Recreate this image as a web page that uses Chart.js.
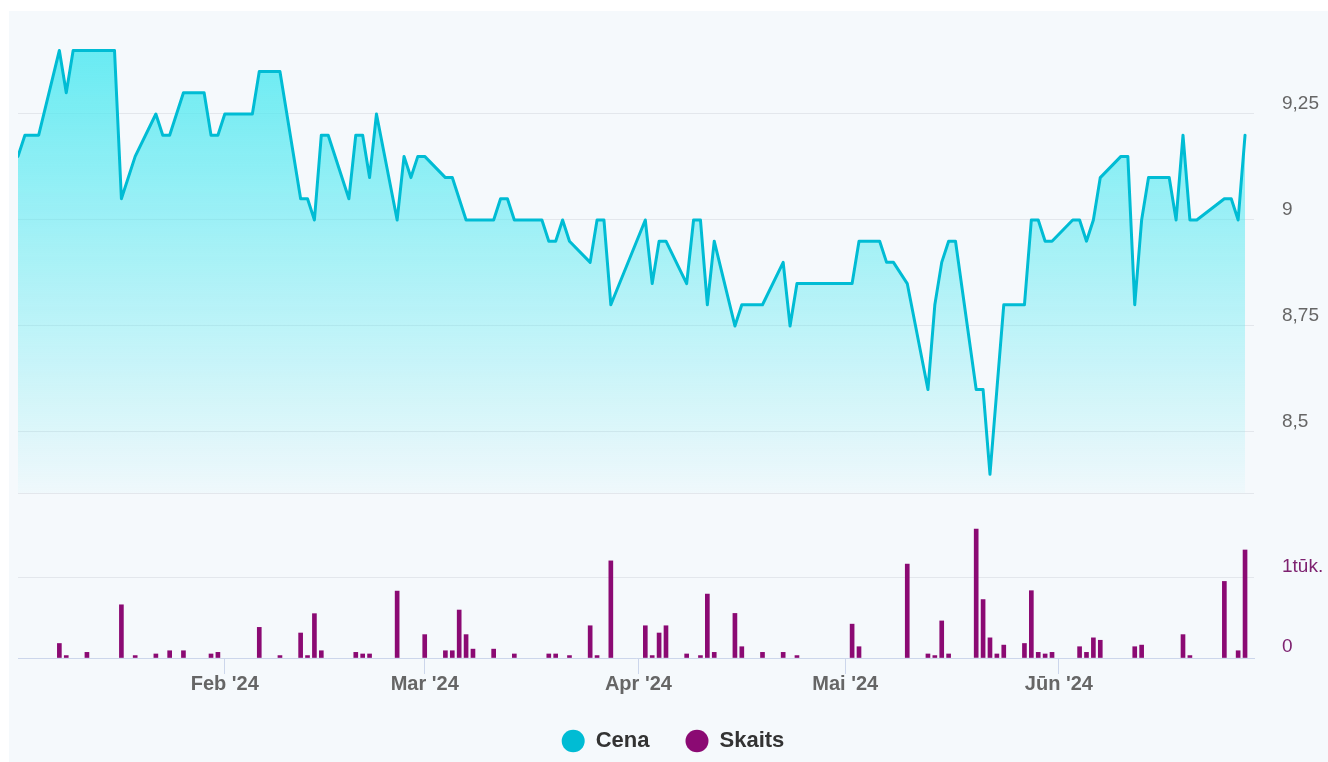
<!DOCTYPE html>
<html>
<head>
<meta charset="utf-8">
<script src="https://cdn.jsdelivr.net/npm/chart.js@4"></script>
<style>
  html, body { margin: 0; padding: 0; background: #ffffff; }
  #panel { position: absolute; left: 9px; top: 11px; width: 1319px; height: 751px; background: #f5f9fc; }
  #chart { position: absolute; left: 0; top: 0; display: block; }
</style>
</head>
<body>
<div id="panel"></div>
<canvas id="chart" width="1328" height="762"></canvas>
<script>
// day numbers count from 1 Jan 2024 = 0
const priceDays = [1, 2, 4, 7, 8, 9, 15, 16, 18, 21, 22, 23, 25, 28, 29, 30, 31, 35, 36, 39,
  42, 43, 44, 45, 46, 49, 50, 51, 52, 53, 56, 57, 58, 59, 60, 63, 64, 66, 70, 71,
  72, 73, 77, 78, 79, 80, 81, 84, 85, 86, 87, 92, 93, 94, 95, 98, 99, 100, 101, 102,
  105, 106, 109, 112, 113, 114, 122, 123, 126, 127, 128, 130, 133, 134, 135, 136, 137, 140, 141, 142,
  143, 144, 147, 148, 149, 150, 151, 154, 155, 156, 157, 158, 161, 162, 163, 164, 165, 168, 169, 170,
  171, 172, 176, 177, 178, 179]
const prices = [9.15, 9.2, 9.2, 9.4, 9.3, 9.4, 9.4, 9.05, 9.15, 9.25, 9.2, 9.2, 9.3, 9.3, 9.2, 9.2, 9.25, 9.25, 9.35, 9.35,
  9.05, 9.05, 9.0, 9.2, 9.2, 9.05, 9.2, 9.2, 9.1, 9.25, 9.0, 9.15, 9.1, 9.15, 9.15, 9.1, 9.1, 9.0, 9.0, 9.05,
  9.05, 9.0, 9.0, 8.95, 8.95, 9.0, 8.95, 8.9, 9.0, 9.0, 8.8, 9.0, 8.85, 8.95, 8.95, 8.85, 9.0, 9.0, 8.8, 8.95,
  8.75, 8.8, 8.8, 8.9, 8.75, 8.85, 8.85, 8.95, 8.95, 8.9, 8.9, 8.85, 8.6, 8.8, 8.9, 8.95, 8.95, 8.6, 8.6, 8.4,
  8.6, 8.8, 8.8, 9.0, 9.0, 8.95, 8.95, 9.0, 9.0, 8.95, 9.0, 9.1, 9.15, 9.15, 8.8, 9.0, 9.1, 9.1, 9.0, 9.2,
  9.0, 9.0, 9.05, 9.05, 9.0, 9.2]

const volumeDays = [7, 8, 11, 16, 18, 21, 23, 25, 29, 30, 36, 39, 42, 43, 44, 45, 50, 51, 52, 56,
  60, 63, 64, 65, 66, 67, 70, 73, 78, 79, 81, 84, 85, 87, 92, 93, 94, 95, 98, 100,
  101, 102, 105, 106, 109, 112, 114, 122, 123, 130, 133, 134, 135, 136, 140, 141, 142, 143, 144, 147,
  148, 149, 150, 151, 155, 156, 157, 158, 163, 164, 170, 171, 176, 178, 179]
const volumes = [180, 30, 70, 660, 30, 50, 90, 90, 50, 70, 380, 30, 310, 30, 550, 90, 70, 50, 50, 830,
  290, 90, 90, 595, 290, 110, 110, 50, 50, 50, 30, 400, 30, 1205, 400, 30, 310, 400, 50, 30,
  793, 70, 553, 140, 70, 70, 30, 420, 140, 1165, 50, 30, 460, 50, 1600, 725, 250, 50, 160, 180,
  835, 70, 50, 70, 140, 70, 250, 220, 140, 160, 290, 30, 950, 90, 1340]

const monthTicks = [31, 60, 91, 121, 152]
const monthLabels = ["Feb '24", "Mar '24", "Apr '24", "Mai '24", "Jūn '24"]
const priceTicks = [8.5, 8.75, 9, 9.25]
const priceTickLabels = ['8,5', '8,75', '9', '9,25']
const volumeTicks = [0, 1000]
const volumeTickLabels = ['0', '1tūk.']
const seriesNames = ['Cena', 'Skaits']
const seriesColors = ['#00bcd4', '#8b0a73']

const FONT = "'Liberation Sans', Arial, sans-serif"

function priceFill(ctx) {
  const { chart } = ctx
  const y = chart.scales.y
  if (!y || y.bottom === undefined) return 'rgba(77,232,240,0.5)'
  const g = chart.ctx.createLinearGradient(0, y.top, 0, y.bottom)
  g.addColorStop(0, 'rgba(77,232,240,0.9)')
  g.addColorStop(1, 'rgba(77,232,240,0.03)')
  return g
}

new Chart(document.getElementById('chart'), {
  data: {
    datasets: [{
      type: 'line',
      label: seriesNames[0],
      data: priceDays.map((d, i) => ({ x: d, y: prices[i] })),
      xAxisID: 'x',
      yAxisID: 'y',
      borderColor: seriesColors[0],
      borderWidth: 3,
      borderJoinStyle: 'round',
      borderCapStyle: 'round',
      backgroundColor: priceFill,
      fill: 'start',
      pointRadius: 0,
      tension: 0
    }, {
      type: 'bar',
      label: seriesNames[1],
      data: volumeDays.map((d, i) => ({ x: d, y: volumes[i] })),
      xAxisID: 'x',
      yAxisID: 'y1',
      backgroundColor: seriesColors[1],
      barThickness: 4,
      grouped: false
    }]
  },
  options: {
    responsive: false,
    animation: false,
    devicePixelRatio: 1,
    layout: { padding: { left: 18, right: 0, top: 0, bottom: 0 } },
    plugins: {
      tooltip: { enabled: false },
      legend: {
        position: 'bottom',
        labels: {
          usePointStyle: true,
          pointStyleWidth: 23,
          boxHeight: 16,
          padding: 36,
          color: '#333333',
          font: { family: FONT, size: 22, weight: 'bold' },
          generateLabels: (chart) => Chart.defaults.plugins.legend.labels.generateLabels(chart).map((l, i) => ({
            ...l, fillStyle: seriesColors[i], strokeStyle: seriesColors[i], lineWidth: 0, pointStyle: 'circle'
          }))
        }
      }
    },
    scales: {
      x: {
        type: 'linear',
        min: 1,
        max: 180.3,
        offset: false,
        afterBuildTicks: (s) => { s.ticks = monthTicks.map(v => ({ value: v })) },
        afterFit: (s) => { s.height = 36 },
        ticks: {
          padding: 0,
          color: '#666666',
          font: { family: FONT, size: 20, weight: 'bold', lineHeight: 1 },
          maxRotation: 0,
          autoSkip: false,
          callback: (v) => monthLabels[monthTicks.indexOf(v)]
        },
        grid: { offset: false, drawOnChartArea: false, drawTicks: true, tickLength: 16, color: '#ccd6eb' },
        border: { color: '#ccd6eb', width: 1 }
      },
      y: {
        type: 'linear',
        position: 'right',
        stack: 'panes',
        stackWeight: 481.6,
        min: 8.356,
        max: 9.492,
        afterBuildTicks: (s) => { s.ticks = priceTicks.map(v => ({ value: v })) },
        afterFit: (s) => { s.width = 74 },
        ticks: {
          padding: 0,
          labelOffset: -10,
          color: '#666666',
          font: { family: FONT, size: 19 },
          callback: (v) => priceTickLabels[priceTicks.indexOf(v)]
        },
        grid: { color: '#e3e7ec', drawTicks: true, tickLength: 28, tickColor: 'rgba(0,0,0,0)' },
        border: { display: false }
      },
      y1: {
        type: 'linear',
        position: 'right',
        stack: 'panes',
        stackWeight: 165,
        min: 0,
        max: 2047,
        afterBuildTicks: (s) => { s.ticks = volumeTicks.concat([s.max]).map(v => ({ value: v })) },
        afterFit: (s) => { s.width = 74 },
        ticks: {
          padding: 0,
          labelOffset: -11,
          color: '#7e2270',
          font: { family: FONT, size: 19 },
          callback: (v) => volumeTicks.includes(v) ? volumeTickLabels[volumeTicks.indexOf(v)] : ''
        },
        grid: { color: '#e3e7ec', drawTicks: true, tickLength: 28, tickColor: 'rgba(0,0,0,0)' },
        border: { display: false }
      }
    }
  }
})
</script>
</body>
</html>
